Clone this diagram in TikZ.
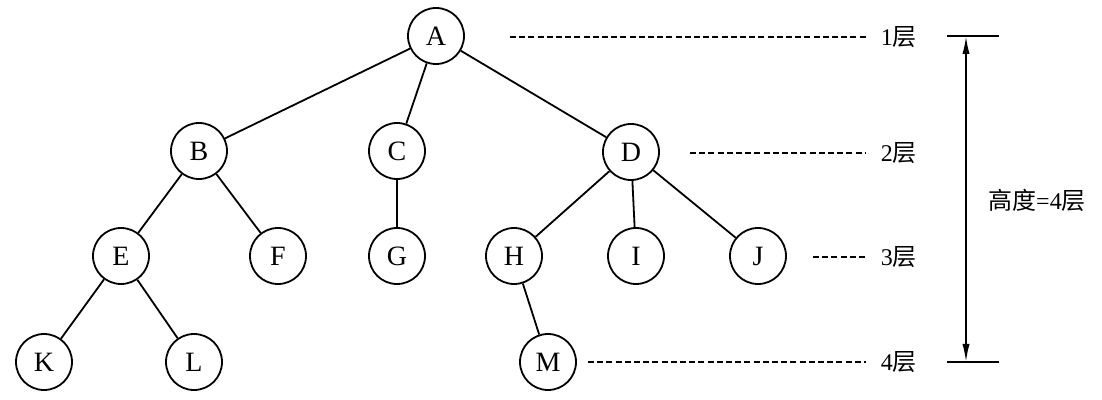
\documentclass[tikz,border=0pt]{standalone}
\usepackage{fontspec}
\setmainfont{Liberation Serif}
\newfontfamily\cjk{Noto Sans CJK SC}
\usepackage{tikz}
\usetikzlibrary{
  arrows.meta} % for slim Latex tips
\tikzstyle{vertex} = [draw, circle, minimum size=28pt, inner sep=0pt, font=\fontsize{14}{16}\selectfont]
\tikzstyle{level} = [draw=none, anchor=west, inner xsep=7pt, inner ysep=0pt, font=\fontsize{12}{14}\selectfont]
\tikzstyle{guide} = [dash pattern=on 3pt off 1.6pt, line width=0.6pt]

\begin{document}
\begin{tikzpicture}[ x=0.5pt, y=-0.5pt, line width=0.9pt, >={Latex[length=9pt,width=3.6pt]} ]
\useasboundingbox (0,0) rectangle (1102,400);

\node[vertex] (A) at (436,36) {A};
\node[vertex] (B) at (199,151) {B} edge[-] (A);
\node[vertex] (C) at (397,151) {C} edge[-] (A);
\node[vertex] (D) at (631,152) {D} edge[-] (A);
\node[vertex] (E) at (121,256) {E} edge[-] (B);
\node[vertex] (F) at (278,256) {F} edge[-] (B);
\node[vertex] (G) at (397,256) {G} edge[-] (C);
\node[vertex] (H) at (514,256) {H} edge[-] (D);
\node[vertex] (I) at (636,256) {I} edge[-] (D);
\node[vertex] (J) at (758,256) {J} edge[-] (D);
\node[vertex] (K) at (44,362) {K} edge[-] (E);
\node[vertex] (L) at (194,362) {L} edge[-] (E);
\node[vertex] (M) at (548,362) {M} edge[-] (H);

% level marks
\node[level] (l1) at (866,37) {1{\cjk 层}};
\node[level] (l2) at (866,153) {2{\cjk 层}};
\node[level] (l3) at (866,257) {3{\cjk 层}};
\node[level] (l4) at (866,362) {4{\cjk 层}};
\coordinate (g1) at (510,37);
\coordinate (g2) at (690,153);
\coordinate (g3) at (813,257);
\coordinate (g4) at (588,362);
\draw[guide] (g1) -- (l1);
\draw[guide] (g2) -- (l2);
\draw[guide] (g3) -- (l3);
\draw[guide] (g4) -- (l4);

% height
\coordinate (t1) at (947,36);
\coordinate (t2) at (999,36);
\coordinate (b1) at (947,362);
\coordinate (b2) at (999,362);
\coordinate (top) at (966,36);
\coordinate (bot) at (966,362);
\draw (t1) -- (t2);
\draw (b1) -- (b2);
\draw[<->] (top) -- (bot);
\node[level, anchor=center, inner xsep=0pt] (height) at (1037,200) {{\cjk 高度}=4{\cjk 层}};

\end{tikzpicture}
\end{document}
